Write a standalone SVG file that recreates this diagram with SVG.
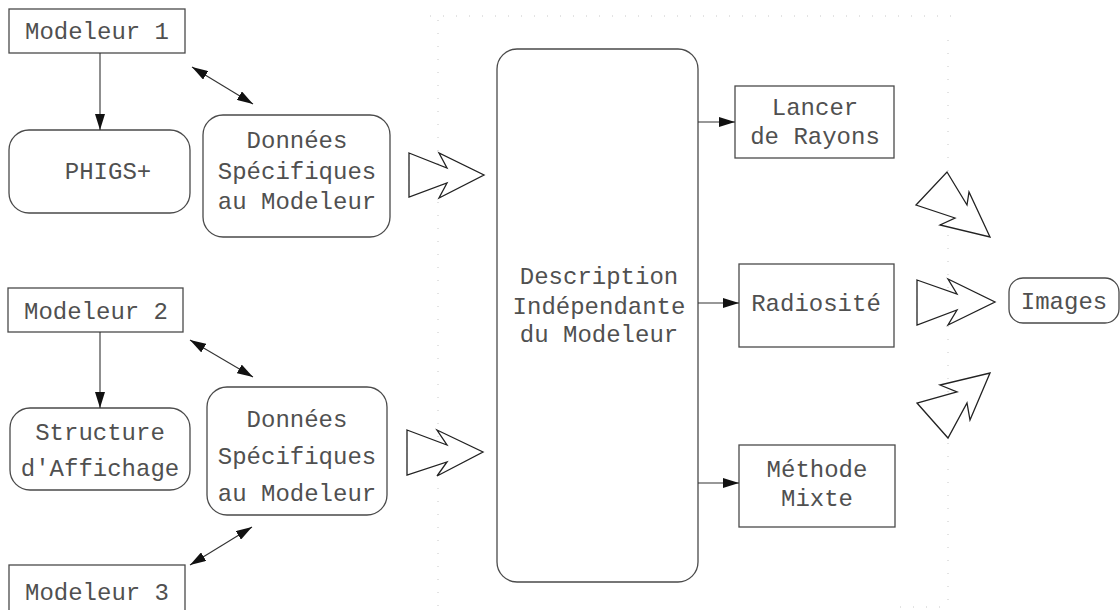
<svg xmlns="http://www.w3.org/2000/svg" width="1120" height="610" viewBox="0 0 1120 610">
<style>
.box{fill:#fff;stroke:#4a4a4a;stroke-width:1.3}
.t{font-family:"Liberation Mono","Courier New",monospace;font-size:24px;fill:#505050;text-anchor:middle}
.c{stroke:#333;stroke-width:1.1;fill:none}
.big{fill:#fff;stroke:#222;stroke-width:1.3;stroke-linejoin:miter}
.grid{stroke:#c8c8c8;stroke-width:1;stroke-dasharray:1 12;fill:none}
</style>
<defs>
<marker id="ah" viewBox="0 0 16 10" refX="16" refY="5" markerWidth="16" markerHeight="10" markerUnits="userSpaceOnUse" orient="auto-start-reverse">
<path d="M0,0 L16,5 L0,10 z" fill="#111"/>
</marker>
</defs>
<rect width="1120" height="610" fill="#fff"/>
<g id="guides">
<path class="grid" d="M438,20 V610 M948,40 V610 M430,16 H955 M900,607 H950"/>
</g>
<g id="modeleur1"><rect class="box" x="9" y="9" width="176" height="44"/><text class="t" x="97" y="39">Modeleur 1</text></g>
<g id="phigs"><rect class="box" x="9" y="130" width="181" height="83" rx="20"/><text class="t" x="108" y="179">PHIGS+</text></g>
<g id="donnees1"><rect class="box" x="203" y="115" width="187" height="122" rx="20"/>
<text class="t" x="297" y="148">Données</text><text class="t" x="297" y="179">Spécifiques</text><text class="t" x="297" y="209">au Modeleur</text></g>
<g id="modeleur2"><rect class="box" x="8" y="288" width="175" height="44"/><text class="t" x="96" y="319">Modeleur 2</text></g>
<g id="structure"><rect class="box" x="10" y="408" width="180" height="82" rx="20"/>
<text class="t" x="100" y="440">Structure</text><text class="t" x="100" y="476">d'Affichage</text></g>
<g id="donnees2"><rect class="box" x="207" y="387" width="180" height="128" rx="20"/>
<text class="t" x="297" y="427">Données</text><text class="t" x="297" y="464">Spécifiques</text><text class="t" x="297" y="501">au Modeleur</text></g>
<g id="modeleur3"><rect class="box" x="9" y="565" width="176" height="60"/><text class="t" x="97" y="600">Modeleur 3</text></g>
<g id="description"><rect class="box" x="497" y="49" width="201" height="533" rx="20"/>
<text class="t" x="599" y="284">Description</text><text class="t" x="599" y="314">Indépendante</text><text class="t" x="599" y="342">du Modeleur</text></g>
<g id="lancer"><rect class="box" x="735" y="86" width="159" height="72"/>
<text class="t" x="815" y="115">Lancer</text><text class="t" x="815" y="144">de Rayons</text></g>
<g id="radiosite"><rect class="box" x="739" y="264" width="155" height="83"/><text class="t" x="816" y="311">Radiosité</text></g>
<g id="methode"><rect class="box" x="739" y="445" width="156" height="82"/>
<text class="t" x="817" y="477">Méthode</text><text class="t" x="817" y="506">Mixte</text></g>
<g id="images"><rect class="box" x="1009" y="278" width="110" height="45" rx="14"/><text class="t" x="1064" y="309">Images</text></g>
<g id="connectors">
<line class="c" x1="100" y1="53" x2="100" y2="130" marker-end="url(#ah)"/>
<line class="c" x1="192" y1="67" x2="253" y2="104" marker-start="url(#ah)" marker-end="url(#ah)"/>
<line class="c" x1="100" y1="332" x2="100" y2="408" marker-end="url(#ah)"/>
<line class="c" x1="190" y1="340" x2="253" y2="377" marker-start="url(#ah)" marker-end="url(#ah)"/>
<line class="c" x1="190" y1="565" x2="252" y2="527" marker-start="url(#ah)" marker-end="url(#ah)"/>
<line class="c" x1="698" y1="122" x2="735" y2="122" marker-end="url(#ah)"/>
<line class="c" x1="698" y1="303" x2="739" y2="303" marker-end="url(#ah)"/>
<line class="c" x1="698" y1="483" x2="739" y2="483" marker-end="url(#ah)"/>
<polygon class="big" points="409,153 447,168 439,153 484,175 439,198 447,183 409,197"/>
<polygon class="big" points="407,430 447,445 437,430 483,452 437,476 447,462 407,475"/>
<polygon class="big" points="917,280 957,294 948,279 995,302 948,325 957,310 917,325"/>
<polygon class="big" points="947,172 967,205 969,192 990,237 940,225 955,218 916,205"/>
<polygon class="big" points="990,373 970,420 967,403 948,438 917,403 957,392 940,385"/>
</g>
</svg>
